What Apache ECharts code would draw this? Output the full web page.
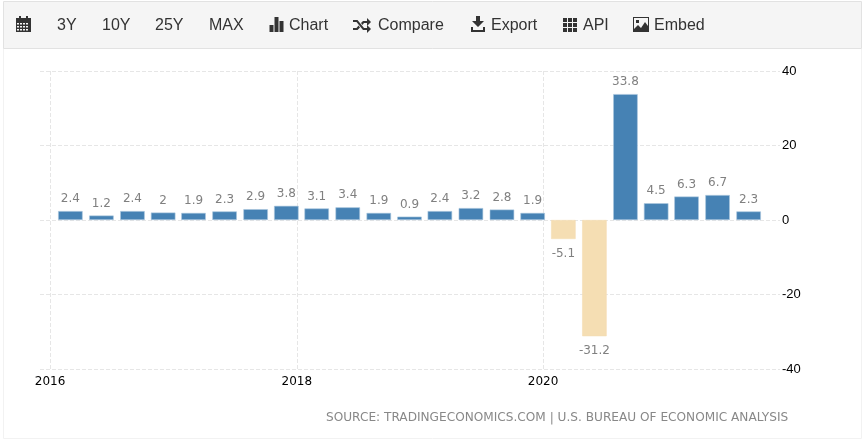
<!DOCTYPE html>
<html>
<head>
<meta charset="utf-8">
<style>html,body{margin:0;padding:0;background:#fff}#c{width:866px;height:441px}</style>
<script src="https://cdn.jsdelivr.net/npm/echarts@6/dist/echarts.min.js"></script>
</head>
<body>
<div id="c"></div>
<script>
const dates = ['2016-03-01','2016-06-01','2016-09-01','2016-12-01','2017-03-01','2017-06-01','2017-09-01','2017-12-01','2018-03-01','2018-06-01','2018-09-01','2018-12-01','2019-03-01','2019-06-01','2019-09-01','2019-12-01','2020-03-01','2020-06-01','2020-09-01','2020-12-01','2021-03-01','2021-06-01','2021-09-01'];
const growth = [2.4,1.2,2.4,2,1.9,2.3,2.9,3.8,3.1,3.4,1.9,0.9,2.4,3.2,2.8,1.9,-5.1,-31.2,33.8,4.5,6.3,6.7,2.3];
const yearTicks = ['2016-01-01','2018-01-01','2020-01-01'];
const toolbarLabels = [['3Y',57],['10Y',102],['25Y',155],['MAX',209],['Chart',289],['Compare',378],['Export',491],['API',583],['Embed',654]];
const sourceText = 'SOURCE: TRADINGECONOMICS.COM | U.S. BUREAU OF ECONOMIC ANALYSIS';
const ms = s => Date.parse(s);

let iconId = 0;
const icon = (d, x, y) => {
  const name = 'tbicon' + (iconId++);
  echarts.graphic.registerShape(name, echarts.graphic.extendPath(d, {}));
  return {type:name, x, y, style:{fill:'#333'}, silent:true};
};
const graphic = [
  {type:'rect', shape:{x:3.5,y:48.5,width:858,height:390}, style:{fill:'#fff',stroke:'#f2f2f2',lineWidth:1}, silent:true},
  {type:'rect', shape:{x:3.5,y:1.5,width:858,height:47}, style:{fill:'#f5f5f5',stroke:'#e2e2e2',lineWidth:1}, silent:true},
  icon('M0 2H3V0H5V2H10V0H12V2H15V16H0Z M1 7V8.5H3V7Z M4 7V8.5H6V7Z M7 7V8.5H9V7Z M10 7V8.5H12V7Z M1 10V11.5H3V10Z M4 10V11.5H6V10Z M7 10V11.5H9V10Z M10 10V11.5H12V10Z M1 13V14.5H3V13Z M4 13V14.5H6V13Z M7 13V14.5H9V13Z M10 13V14.5H12V13Z',16,16),
  icon('M0 8H4V15H0Z M5 0H9V15H5Z M10 4H14V15H10Z',269.5,17),
  icon('M0 2H4.5L11 10H14V7L18 11L14 15V12H10L3.5 4H0Z M0 10H3.5L5.5 7.5L7 9.5L4.5 12H0Z M14 0L18 4L14 8V5H11L9.5 7L8 5L10 3H14Z',353,18),
  icon('M5 0H9V5H13L7 11L1 5H5Z M0 11H2V14H12V11H14V16H0Z',471,16),
  icon('M0 0H4V4H0Z M5 0H9V4H5Z M10 0H14V4H10Z M0 5H4V9H0Z M5 5H9V9H5Z M10 5H14V9H10Z M0 10H4V14H0Z M5 10H9V14H5Z M10 10H14V14H10Z',563,18),
  icon('M0 0H16V15H0ZM1 1V12L5 8L8 11L12 5L15 9V1Z M3 3H6V6H3Z',633,17),
  ...toolbarLabels.map(([t,x]) => ({type:'text', x, y:26, style:{text:t, fontFamily:'Liberation Sans', fontSize:16, fill:'#333', verticalAlign:'middle'}, silent:true})),
  {type:'text', x:326, y:418, style:{text:sourceText, fontFamily:'DejaVu Sans', fontSize:12.13, fill:'#888', verticalAlign:'middle'}, silent:true}
];

const chart = echarts.init(document.getElementById('c'), null, {renderer:'canvas'});
chart.setOption({
  animation:false,
  backgroundColor:'#fff',
  graphic,
  grid:{left:40,right:86,top:71,bottom:72},
  xAxis:{
    type:'value', min:ms('2015-12-02'), max:ms('2021-12-03'), scale:true,
    axisLine:{show:false},
    axisTick:{show:false, customValues:yearTicks.map(ms)},
    axisLabel:{customValues:yearTicks.map(ms), formatter:v=>String(new Date(v).getUTCFullYear()), color:'#000', fontFamily:'DejaVu Sans', fontSize:12, margin:7},
    splitLine:{show:true, lineStyle:{type:'dashed', color:'#e6e6e6', width:1}}
  },
  yAxis:{
    type:'value', position:'right', min:-40, max:40, interval:20,
    axisLine:{show:false}, axisTick:{show:false},
    axisLabel:{color:'#000', fontFamily:'Liberation Sans', fontSize:13, margin:2, align:'left'},
    splitLine:{show:true, lineStyle:{type:'dashed', color:'#e6e6e6', width:1}}
  },
  series:[{
    type:'bar', barWidth:24.5,
    data:dates.map((d,i)=>{
      const v = growth[i];
      return {
        value:[ms(d),v],
        itemStyle:{color:v<0?'#f5deb3':'#4682b4', borderColor:v<0?'#f5deb3':'#a9c6de', borderWidth:0.6},
        label:{position:v<0?'bottom':'top', distance:v<0?9:6}
      };
    }),
    label:{show:true, color:'#808080', fontFamily:'DejaVu Sans', fontSize:12, distance:6, formatter:p=>String(p.value[1])}
  }]
});
</script>
</body>
</html>
